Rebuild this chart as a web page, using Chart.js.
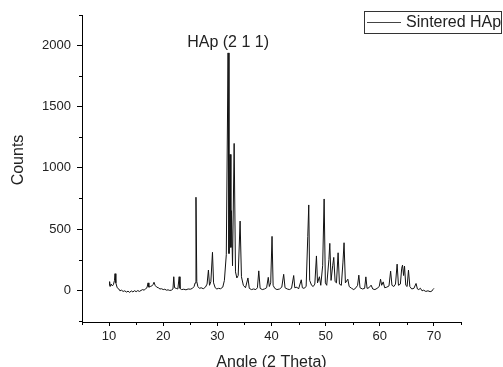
<!DOCTYPE html>
<html>
<head>
<meta charset="utf-8">
<script src="https://cdn.jsdelivr.net/npm/chart.js@4.4.0/dist/chart.umd.min.js"></script>
<style>
    body { margin: 0; background: #fff; }
    #wrap { width: 503px; height: 367px; }
</style>
</head>
<body>
<div id="wrap"><canvas id="xrdChart" width="503" height="367"></canvas></div>
<script>
// XRD pattern of sintered HAp

const angles = [
    10.0, 10.1, 10.2, 10.4, 10.6, 10.8, 11.0, 11.1, 11.25, 11.5, 11.8,
    12.0, 12.3, 12.6, 12.9, 13.2, 13.5, 13.8, 14.1, 14.4, 14.7, 15.0,
    15.3, 15.6, 15.9, 16.2, 16.5, 16.8, 17.0, 17.2, 17.35, 17.6, 17.9, 18.1,
    18.3, 18.5, 18.8, 19.1, 19.4, 19.7, 20.0, 20.3, 20.6, 20.9, 21.2, 21.5,
    21.8, 21.95, 22.1, 22.4, 22.7, 22.95, 23.1, 23.4, 23.8, 24.2, 24.6, 25.0,
    25.4, 25.7, 25.9, 26.05, 26.2, 26.4, 26.7, 27.0, 27.4, 27.8, 28.1, 28.35, 28.55, 28.8, 29.1,
    29.3, 29.6, 29.9, 30.2, 30.6, 31.0, 31.3, 31.65, 31.98, 32.15, 32.35, 32.5, 32.6, 32.8, 33.1,
    33.35, 33.6, 33.85, 34.2, 34.45, 34.8, 35.2, 35.65, 35.9, 36.3, 36.7, 37.1, 37.4, 37.65,
    37.9, 38.3, 38.7, 39.1, 39.4, 39.6, 39.85, 40.1, 40.3, 40.6, 41.0, 41.5, 41.9, 42.25,
    42.5, 42.9, 43.3, 43.7, 44.1, 44.3, 44.7, 45.0, 45.5, 45.7, 46.0, 46.4, 46.7, 46.88,
    47.05, 47.4, 47.7, 48.0, 48.3, 48.5, 48.85, 49.1, 49.45, 49.72, 49.95, 50.2, 50.6, 50.77,
    51.0, 51.3, 51.5, 51.75, 52.0, 52.3, 52.55, 52.9, 53.2, 53.4, 53.65, 54.1, 54.35,
    54.8, 55.2, 55.6, 55.9, 56.13, 56.35, 56.8, 57.2, 57.43, 57.65, 58.0, 58.4, 58.7,
    59.1, 59.5, 59.9, 60.14, 60.35, 60.63, 60.9, 61.3, 61.7, 62.0, 62.25, 62.6, 62.9,
    63.2, 63.45, 63.8, 64.05, 64.2, 64.4, 64.57, 64.8, 65.05, 65.3, 65.55, 65.9, 66.3,
    66.7, 66.95, 67.2, 67.5, 67.8, 68.1, 68.5, 68.9, 69.3, 69.6, 69.8, 70.0,
];

const counts = [
    40, 70, 30, 50, 35, 45, 80, 135, 60, 20, 10,
    -5, 0, -10, -5, -15, -8, -18, -6, -14, -4, -12,
    -3, -10, -2, 5, 0, 15, 20, 60, 25, 30, 35, 45,
    65, 40, 25, 20, 10, 12, 5, 8, 0, 3, -2, 0,
    10, 110, 20, 15, 10, 110, 15, 5, 8, 3, 10, 8,
    15, 30, 60, 760, 70, 30, 15, 20, 12, 25, 50, 165, 40, 70, 310,
    60, 20, 10, 15, 12, 25, 80, 290, 1940, 300, 1110, 350, 650, 200, 1200,
    150, 100, 120, 565, 110, 40, 20, 100, 15, 5, 10, 5, 20, 158,
    15, 5, 10, 20, 105, 30, 60, 440, 40, 15, 5, 10, 25, 130,
    20, 10, 5, 15, 120, 20, 25, 10, 85, 20, 15, 30, 440, 697,
    80, 40, 30, 50, 280, 60, 110, 40, 200, 746, 60, 40, 250, 383,
    80, 200, 268, 70, 60, 306, 50, 40, 230, 388, 60, 90, 30,
    15, 5, 20, 40, 123, 20, 10, 15, 109, 15, 20, 41, 10,
    5, 15, 30, 90, 40, 68, 20, 25, 35, 156, 40, 30, 50,
    213, 40, 50, 180, 205, 120, 197, 40, 30, 164, 30, 10, 15,
    55, 10, 5, 16, -5, 0, -10, -5, -12, -8, 5, 15,
];

const xTicks = [10, 20, 30, 40, 50, 60, 70];
const xMinorTicks = [5, 15, 25, 35, 45, 55, 65, 75];
const yTicks = [0, 500, 1000, 1500, 2000];
const yMinorTicks = [-250, 250, 750, 1250, 1750, 2250];

const seriesLabel = 'Sintered HAp';
const peakLabel = 'HAp (2 1 1)';
const peakAngle = 31.98;

const FONT = 'Arial, "Liberation Sans", sans-serif';

// minor ticks, y title, peak label and legend box
const extrasPlugin = {
    id: 'extras',
    afterDraw(chart) {
        const { ctx, chartArea, scales } = chart;
        const x = scales.x;
        const y = scales.y;
        ctx.save();
        ctx.strokeStyle = '#000';
        ctx.lineWidth = 1;
        ctx.beginPath();
        xMinorTicks.forEach(v => {
            const px = Math.round(x.getPixelForValue(v)) + 0.5;
            ctx.moveTo(px, chartArea.bottom);
            ctx.lineTo(px, chartArea.bottom + 3);
        });
        yMinorTicks.forEach(v => {
            const py = Math.round(y.getPixelForValue(v)) + 0.5;
            ctx.moveTo(chartArea.left - 3, py);
            ctx.lineTo(chartArea.left, py);
        });
        ctx.stroke();

        // y axis title
        ctx.fillStyle = '#222';
        ctx.font = '16px ' + FONT;
        ctx.textAlign = 'center';
        ctx.textBaseline = 'middle';
        ctx.save();
        ctx.translate(19, 160);
        ctx.rotate(-Math.PI / 2);
        ctx.fillText('Counts', 0, 0);
        ctx.restore();

        // peak annotation
        ctx.textBaseline = 'alphabetic';
        ctx.fillText(peakLabel, x.getPixelForValue(peakAngle), y.getPixelForValue(1990));

        // legend
        ctx.strokeStyle = '#333';
        ctx.strokeRect(364.5, 11.5, 137, 22);
        ctx.strokeStyle = '#444';
        ctx.beginPath();
        ctx.moveTo(367, 22.5);
        ctx.lineTo(401, 22.5);
        ctx.stroke();
        ctx.textAlign = 'left';
        ctx.textBaseline = 'middle';
        ctx.fillText(seriesLabel, 406, 23);
        ctx.restore();
    },
};

const points = angles.map((a, i) => ({ x: a, y: counts[i] }));

new Chart(document.getElementById('xrdChart'), {
    type: 'line',
    data: {
        datasets: [{
            label: seriesLabel,
            data: points,
            borderColor: '#111',
            borderWidth: 1,
            pointRadius: 0,
            tension: 0,
            fill: false,
        }],
    },
    options: {
        responsive: false,
        devicePixelRatio: 1,
        animation: false,
        layout: {
            padding: { left: 0, right: 42, top: 15, bottom: 0 },
        },
        plugins: {
            legend: { display: false },
            tooltip: { enabled: false },
        },
        scales: {
            x: {
                type: 'linear',
                min: 5,
                max: 75,
                afterBuildTicks: scale => {
                    scale.ticks = xTicks.map(v => ({ value: v }));
                },
                afterFit: scale => {
                    scale.height = 45;
                },
                grid: {
                    drawOnChartArea: false,
                    drawTicks: true,
                    tickLength: 4,
                    tickColor: '#000',
                },
                border: { display: true, color: '#000', width: 1 },
                ticks: {
                    padding: 3,
                    color: '#222',
                    font: { family: FONT, size: 13 },
                    maxRotation: 0,
                    callback: v => String(v),
                },
                title: {
                    display: true,
                    text: 'Angle (2 Theta)',
                    color: '#222',
                    font: { family: FONT, size: 16 },
                    padding: { top: 0, bottom: -5 },
                },
            },
            y: {
                type: 'linear',
                min: -260,
                max: 2250,
                afterBuildTicks: scale => {
                    scale.ticks = yTicks.map(v => ({ value: v }));
                },
                afterFit: scale => {
                    scale.width = 82;
                },
                grid: {
                    drawOnChartArea: false,
                    drawTicks: true,
                    tickLength: 5,
                    tickColor: '#000',
                },
                border: { display: true, color: '#000', width: 1 },
                ticks: {
                    padding: 6,
                    color: '#222',
                    font: { family: FONT, size: 13 },
                    callback: v => String(v),
                },
            },
        },
    },
    plugins: [extrasPlugin],
});
</script>
</body>
</html>
